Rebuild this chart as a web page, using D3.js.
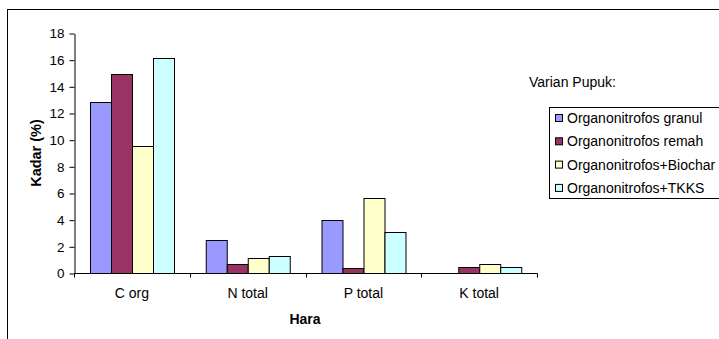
<!DOCTYPE html>
<html>
<head>
<meta charset="utf-8">
<script src="https://cdn.jsdelivr.net/npm/d3@7"></script>
<style>
  html, body { margin: 0; padding: 0; background: #fff; }
  svg { display: block; font-family: "Liberation Sans", Arial, sans-serif; }
</style>
</head>
<body>
<svg id="chart" width="719" height="339"></svg>
<script>
// Nutrient categories and fertilizer variants
const categories = ["C org", "N total", "P total", "K total"];
const seriesNames = [
  "Organonitrofos granul",
  "Organonitrofos remah",
  "Organonitrofos+Biochar",
  "Organonitrofos+TKKS"
];
const granul  = [12.8, 2.5, 4.0, 0];
const remah   = [14.9, 0.65, 0.35, 0.48];
const biochar = [9.5, 1.15, 5.6, 0.65];
const tkks    = [16.1, 1.25, 3.05, 0.43];
const yTicks  = [0, 2, 4, 6, 8, 10, 12, 14, 16, 18];
const colors  = ["#9999FF", "#993366", "#FFFFCC", "#CCFFFF"];

const seriesValues = [granul, remah, biochar, tkks];

const svg = d3.select("#chart");

// outer chart frame
svg.append("rect")
  .attr("x", 7.5).attr("y", 9.5)
  .attr("width", 730).attr("height", 350)
  .attr("fill", "none").attr("stroke", "#000").attr("stroke-width", 1);

const plot = { left: 74, right: 537, top: 33, bottom: 273 };

const x0 = d3.scaleBand().domain(categories)
  .range([plot.left, plot.right]).paddingInner(0).paddingOuter(0);
const x1 = d3.scaleBand().domain(seriesNames)
  .range([0, x0.bandwidth()]).paddingInner(0).paddingOuter(0.75);
const y = d3.scaleLinear().domain([0, 18]).range([plot.bottom, plot.top]);

// bars
const groups = svg.append("g").selectAll("g")
  .data(categories)
  .join("g")
  .attr("transform", c => `translate(${x0(c)},0)`);

groups.selectAll("rect")
  .data((c, i) => seriesNames.map((s, j) => ({ s, j, v: seriesValues[j][i] })).filter(d => d.v > 0))
  .join("rect")
  .attr("x", d => Math.round(x1(d.s)) + 0.5)
  .attr("y", d => Math.round(y(d.v)) + 0.5)
  .attr("width", Math.round(x1.bandwidth()))
  .attr("height", d => plot.bottom - Math.round(y(d.v)))
  .attr("fill", d => colors[d.j])
  .attr("stroke", "#000").attr("stroke-width", 1);

// y axis
const yAxis = svg.append("g")
  .attr("transform", `translate(${plot.left + 0.5},0.5)`)
  .call(d3.axisLeft(y).tickValues(yTicks).tickSize(5).tickSizeOuter(0).tickPadding(5));
yAxis.selectAll("text").attr("font-size", 13.5).attr("fill", "#000")
  .attr("font-family", "Liberation Sans, Arial, sans-serif");
yAxis.selectAll("line, path").attr("stroke", "#000");

// x axis with ticks between categories
const xAxisG = svg.append("g").attr("transform", `translate(0,${plot.bottom + 0.5})`);
xAxisG.append("line")
  .attr("x1", plot.left).attr("x2", plot.right + 0.5)
  .attr("stroke", "#000");
const boundaries = categories.map(c => x0(c)).concat([plot.right]);
xAxisG.selectAll("line.tick")
  .data(boundaries)
  .join("line").attr("class", "tick")
  .attr("x1", d => Math.round(d) + 0.5).attr("x2", d => Math.round(d) + 0.5)
  .attr("y1", 0).attr("y2", 4)
  .attr("stroke", "#000");
xAxisG.selectAll("text")
  .data(categories)
  .join("text")
  .attr("x", c => x0(c) + x0.bandwidth() / 2)
  .attr("y", 24.5)
  .attr("text-anchor", "middle")
  .attr("font-size", 14)
  .text(c => c);

// axis titles
svg.append("text")
  .attr("x", 305).attr("y", 324)
  .attr("text-anchor", "middle")
  .attr("font-size", 14).attr("font-weight", "bold")
  .text("Hara");

svg.append("text")
  .attr("transform", `translate(41,${(plot.top + plot.bottom) / 2}) rotate(-90)`)
  .attr("text-anchor", "middle")
  .attr("font-size", 14.5).attr("font-weight", "bold")
  .text("Kadar (%)");

// legend
svg.append("text")
  .attr("x", 529).attr("y", 87)
  .attr("font-size", 14)
  .text("Varian Pupuk:");

const legend = svg.append("g");
legend.append("rect")
  .attr("x", 549.5).attr("y", 107.5)
  .attr("width", 180).attr("height", 91)
  .attr("fill", "#fff").attr("stroke", "#000");

const items = legend.selectAll("g.item")
  .data(seriesNames)
  .join("g").attr("class", "item")
  .attr("transform", (d, i) => `translate(0,${118 + i * 23.3})`);
items.append("rect")
  .attr("x", 555.5).attr("y", -3.5)
  .attr("width", 7).attr("height", 7)
  .attr("fill", (d, i) => colors[i]).attr("stroke", "#000");
items.append("text")
  .attr("x", 567).attr("y", 5)
  .attr("font-size", 14)
  .text(d => d);
</script>
</body>
</html>
